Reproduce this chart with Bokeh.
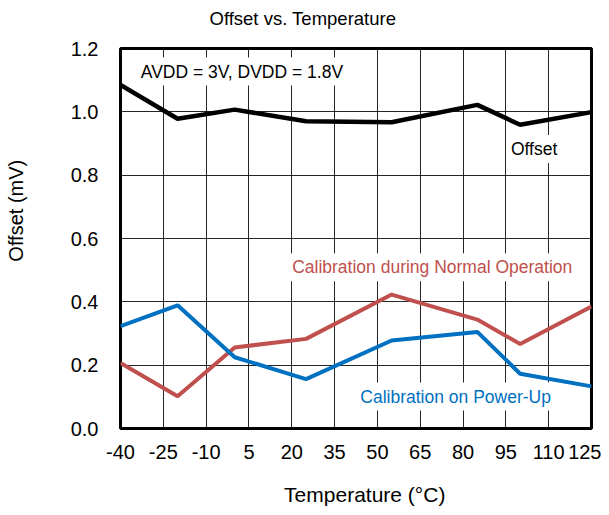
from bokeh.plotting import figure
from bokeh.models import Label, FixedTicker, NumeralTickFormatter, Title
from bokeh.embed import file_html
from bokeh.resources import INLINE

temps = [-40, -20, 0, 25, 55, 85, 100, 125]
offset = [1.085, 0.978, 1.007, 0.970, 0.967, 1.022, 0.959, 0.999]
cal_normal = [0.207, 0.102, 0.256, 0.283, 0.423, 0.344, 0.267, 0.385]
cal_powerup = [0.323, 0.389, 0.225, 0.156, 0.278, 0.305, 0.173, 0.133]

x_ticks = [-40, -25, -10, 5, 20, 35, 50, 65, 80, 95, 110, 125]
y_ticks = [0.0, 0.2, 0.4, 0.6, 0.8, 1.0, 1.2]

FONT = "Liberation Sans"
RED = "#C0504D"
BLUE = "#0070C0"
NB = "\u00a0"

p = figure(width=601, height=513, output_backend="svg", toolbar_location=None,
           x_range=(-40, 125), y_range=(0, 1.2),
           min_border_left=120, min_border_right=10, min_border_top=48, min_border_bottom=85)
p.background_fill_color = "white"
p.border_fill_color = "white"
p.outline_line_color = "black"
p.outline_line_width = 3

p.title.text = "Offset vs. Temperature"
p.title.align = "left"
p.title.offset = 89
p.title.text_font = FONT
p.title.text_font_size = "18.5px"
p.title.text_font_style = "normal"
p.title.text_color = "black"
p.title.standoff = 0

# blank spacer between the frame and the chart title
p.add_layout(Title(text=NB, text_font=FONT, text_font_size="10px", standoff=7), "above")

p.xaxis.ticker = FixedTicker(ticks=x_ticks)
p.xaxis.major_label_overrides = {t: str(t) for t in x_ticks}
p.yaxis.ticker = FixedTicker(ticks=y_ticks)
p.yaxis.formatter = NumeralTickFormatter(format="0.0")
for ax in (p.xaxis, p.yaxis):
    ax.axis_line_color = None
    ax.major_tick_line_color = None
    ax.minor_tick_line_color = None
    ax.major_tick_in = 0
    ax.major_tick_out = 0
    ax.major_label_text_font = FONT
    ax.major_label_text_font_size = "20px"
    ax.major_label_text_color = "black"
    ax.axis_label_text_font = FONT
    ax.axis_label_text_font_style = "normal"
    ax.axis_label_text_color = "black"
p.xaxis.major_label_standoff = 16
p.yaxis.major_label_standoff = 22

p.xaxis.axis_label = NB * 3 + "Temperature (\u00b0C)"
p.xaxis.axis_label_text_font_size = "21px"
p.xaxis.axis_label_standoff = 21
p.yaxis.axis_label = NB * 10 + "Offset (mV)"
p.yaxis.axis_label_text_font_size = "20px"
p.yaxis.axis_label_standoff = 41

p.xgrid.grid_line_color = "black"
p.ygrid.grid_line_color = "black"
p.xgrid.grid_line_width = 1
p.ygrid.grid_line_width = 1
p.xgrid.grid_line_alpha = 0.85
p.ygrid.grid_line_alpha = 0.85

p.line(temps, offset, line_color="black", line_width=4.5)
p.line(temps, cal_normal, line_color=RED, line_width=4)
p.line(temps, cal_powerup, line_color=BLUE, line_width=4)

def add_label(x, y, text, color="black", align="center"):
    lab = Label(x=x, y=y, text=text, text_font=FONT, text_font_size="17.5px",
                text_color=color, text_align=align, text_baseline="middle",
                background_fill_color="white", padding=4)
    p.add_layout(lab)

add_label(-34.3, 1.127, "AVDD = 3V, DVDD = 1.8V", align="left")
add_label(104.9, 0.883, "Offset")
add_label(69.2, 0.509, "Calibration during Normal Operation", color=RED)
add_label(77.4, 0.101, "Calibration on Power-Up", color=BLUE)

open("out.html", "w").write(file_html(p, INLINE))
